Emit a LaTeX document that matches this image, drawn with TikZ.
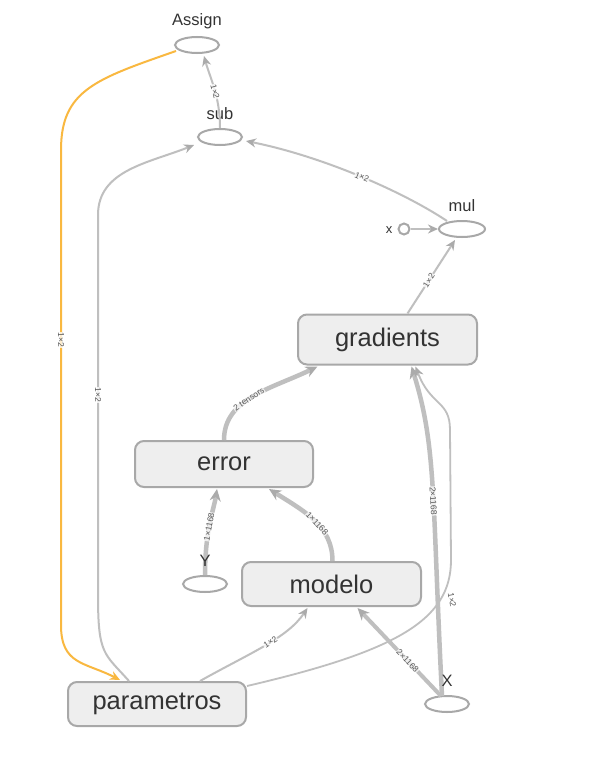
\documentclass[tikz,border=0pt]{standalone}
\usepackage{fontspec}
\setmainfont{Liberation Sans}
\usetikzlibrary{shapes.geometric,arrows.meta,calc}
\definecolor{edgec}{HTML}{BFBFBF}
\definecolor{arrowc}{HTML}{ABABAB}
\definecolor{nodeborder}{HTML}{A8A8A8}
\definecolor{boxfill}{HTML}{EEEEEE}
\definecolor{textc}{HTML}{333333}
\definecolor{labc}{HTML}{555555}
\definecolor{orangec}{HTML}{F9B840}
\tikzset{
  ell/.style={ellipse, draw=nodeborder, line width=2pt, minimum width=44pt, minimum height=16pt, inner sep=0pt},
  opbox/.style={rectangle, rounded corners=9pt, draw=nodeborder, fill=boxfill, line width=2pt,
     minimum width=178pt, minimum height=46pt, inner sep=0pt, text=textc, font=\fontsize{25.5}{28}\selectfont},
  lbl/.style={text=textc, font=\fontsize{16.5}{18}\selectfont, inner sep=0pt},
  edgeln/.style={draw=edgec, line width=2pt, arrows={-{Stealth[length=10pt,width=9pt,color=arrowc]}}},
  thickedge/.style={draw=edgec, line width=4.5pt, arrows={-{Stealth[length=12pt,width=11pt,color=arrowc]}}},
  orangeedge/.style={draw=orangec, line width=2pt, arrows={-{Stealth[length=10pt,width=9pt,color=orangec]}}},
  elab/.style={font=\fontsize{8.5}{9}\selectfont, text=labc, sloped, inner sep=0.6pt, fill=white, fill opacity=0.75, text opacity=1},
}
\begin{document}
\begin{tikzpicture}[x=1pt,y=-1pt]
\useasboundingbox[fill=white] (0,0) rectangle (590,768);

% ellipse nodes and their labels
\node[ell] (assign) at (197,45) {};
\node[lbl] (assignlbl) at (197,21) {Assign};
\node[ell] (sub) at (220,137) {};
\node[lbl] (sublbl) at (220,114) {sub};
\node[ell, minimum width=46pt] (mul) at (462,229) {};
\node[lbl] (mullbl) at (462,206) {mul};
\node[circle, draw=nodeborder, line width=2pt, minimum size=11pt, inner sep=0pt] (x) at (404,229) {};
\node[lbl, font=\fontsize{13}{14}\selectfont] (xlbl) at (389,230) {x};
\node[ell] (Y) at (205,584) {};
\node[ell] (X) at (447,704) {};

% op boxes
\node[opbox, minimum height=50pt, minimum width=179pt] (gradients) at (387.5,339.5) {gradients};
\node[opbox] (error) at (224,464) {error};
\node[opbox, minimum height=44pt, minimum width=179pt] (modelo) at (331.5,584) {modelo};
\node[opbox, minimum height=44pt] (parametros) at (157,704) {parametros};

% edges
\draw[edgeln] (sub.north) .. controls +(0,-32) and +(6,22) .. ($(assign.south)+(7,2)$)
  node[elab, pos=0.45] {1×2};
\draw[edgeln] ($(mul.north)+(-15,1)$) .. controls +(-45,-30) and +(75,15) .. ($(sub.east)+(3,4)$)
  node[elab, pos=0.48] {1×2};
\draw[edgeln] (x.east) -- (mul.west);
\draw[edgeln] ($(gradients.north)+(20,0)$) -- ($(mul.south)+(-7,2)$)
  node[elab, pos=0.45] {1×2};
\draw[thickedge] (error.north) .. controls +(0,-42) and +(-45,22) .. ($(gradients.south)+(-70,1)$)
  node[elab, pos=0.45] {2 tensors};
\draw[thickedge] (Y.north) .. controls +(0,-45) and +(-3,20) .. ($(error.south)+(-7,1)$)
  node[elab, pos=0.45] {1×1168};
\draw[thickedge] ($(modelo.north)+(1,0)$) .. controls +(0,-35) and +(35,22) .. ($(error.south)+(45,1)$)
  node[elab, pos=0.45] {1×1168};
\draw[thickedge] ($(X.north)+(-5,1)$) .. controls +(-10,-200) and +(25,80) .. ($(gradients.south)+(24,1)$)
  node[elab, pos=0.45] {2×1168};
\draw[edgeln, line width=1.8pt] ($(parametros.east)+(0,-18)$) .. controls +(150,-35) and +(0,60) .. (451,560)
  -- (450,430) .. controls +(0,-30) and +(15,40) .. ($(gradients.south)+(28,1)$);
\node[elab, rotate=-80] (lab9) at (452,600) {1×2};
\draw[thickedge, line width=4pt] ($(X.north)+(-6,1)$) -- ($(modelo.south)+(26,1)$)
  node[elab, pos=0.4] {2×1168};
\draw[edgeln] ($(parametros.north)+(43,0)$) .. controls +(50,-28) and +(-20,30) .. ($(modelo.south)+(-24,1)$)
  node[elab, pos=0.55] {1×2};
\draw[edgeln] ($(parametros.north)+(-28,0)$) .. controls +(-25,-28) and +(0,60) .. (98,595)
  -- (98,215) .. controls +(0,-45) and +(-45,18) .. ($(sub.west)+(-3,8)$);
\node[elab, rotate=-90] (lab12) at (98,395) {1×2};
\draw[orangeedge] ($(assign.west)+(2,6)$) .. controls +(-80,28) and +(0,-60) .. (61,150)
  -- (61,625) .. controls +(0,40) and +(-35,-18) .. ($(parametros.north)+(-37,-1)$);
\node[elab, rotate=-90] (lab13) at (61,340) {1×2};

% labels drawn over lines
\node[lbl] (Ylbl) at (205,561) {Y};
\node[lbl] (Xlbl) at (447,681) {X};
\end{tikzpicture}
\end{document}
